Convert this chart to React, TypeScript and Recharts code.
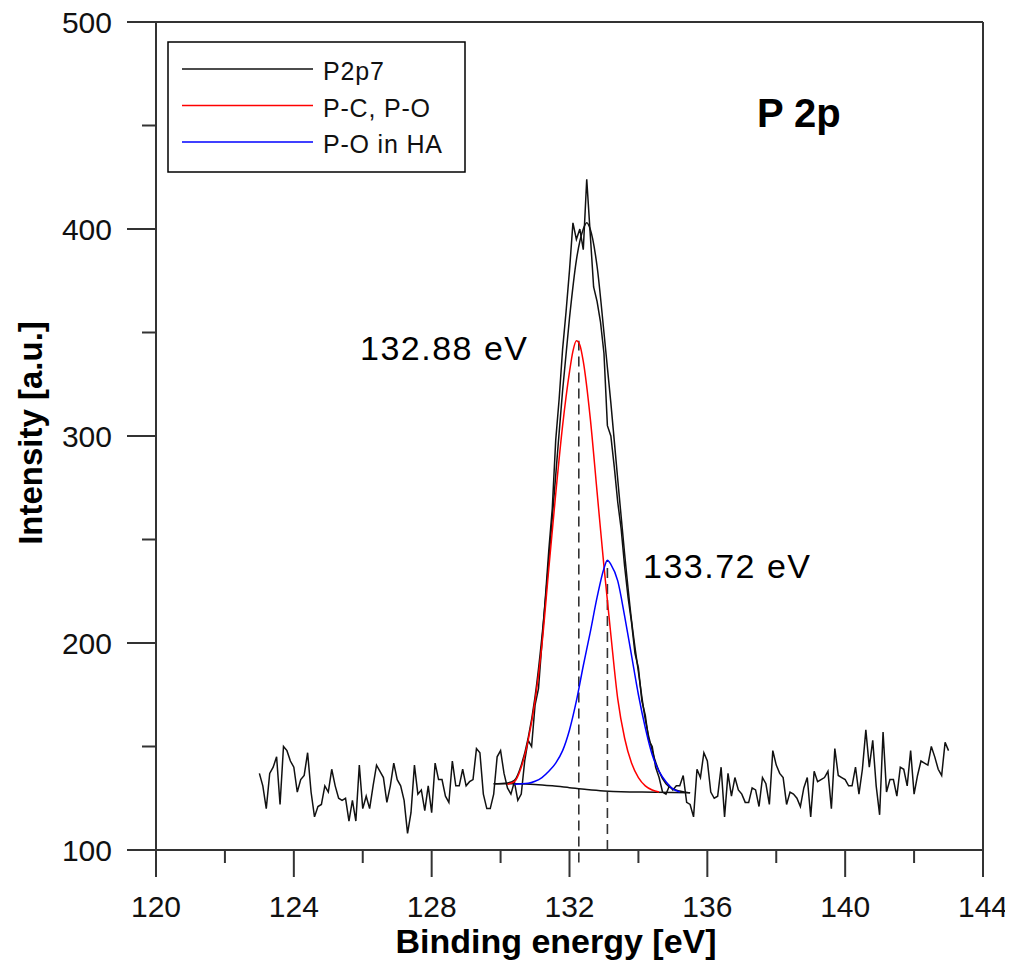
import React from "react";
import { LineChart, Line, XAxis, YAxis, ReferenceLine, Legend } from "recharts";

// raw P 2p scan, 0.1 eV step starting at 123.0 eV
const SCAN_START = 123.0;
const SCAN_STEP = 0.1;
const scanCounts = [
  137, 131, 120, 137, 140, 145, 122, 150, 148, 143,
  140, 128, 134, 136, 147, 128, 116, 121, 122, 131,
  128, 139, 131, 125, 124, 125, 114, 124, 114, 141,
  120, 126, 120, 131, 141, 138, 135, 123, 131, 142,
  134, 131, 124, 108, 118, 141, 127, 129, 119, 131,
  118, 142, 134, 134, 126, 123, 143, 131, 131, 139,
  131, 133, 134, 149, 147, 127, 120, 120, 127, 145,
  148, 137, 130, 127, 133, 124, 127, 143, 153, 150,
  170, 178, 200, 222, 245, 265, 298, 318, 342, 360,
  380, 403, 395, 400, 390, 424, 398, 372, 365, 355,
  340, 305, 300, 285, 268, 255, 237, 222, 210, 195,
  188, 172, 165, 153, 150, 140, 135, 128, 127, 131,
  129, 131, 131, 136, 123, 122, 116, 139, 135, 147,
  143, 128, 125, 126, 140, 116, 137, 126, 135, 129,
  127, 123, 123, 130, 129, 121, 135, 132, 122, 148,
  141, 137, 135, 122, 128, 127, 125, 121, 130, 135,
  116, 138, 133, 134, 135, 138, 120, 149, 136, 135,
  134, 131, 131, 140, 127, 139, 158, 140, 153, 131,
  117, 157, 128, 134, 134, 126, 140, 139, 131, 148,
  127, 136, 143, 142, 141, 150, 145, 139, 136, 152,
  148,
];

// fitted envelope (sum of components)
const envelopeEnergy = [129.8, 130.2, 130.4, 130.6, 130.8, 131.0, 131.2, 131.4, 131.6, 131.8, 132.0, 132.2, 132.4, 132.5, 132.6, 132.8, 133.0, 133.2, 133.4, 133.6, 133.8, 134.0, 134.2, 134.4, 134.6, 134.8, 135.0, 135.2, 135.5];
const envelopeCounts = [132, 132.4, 133.6, 141, 154, 174, 203, 240, 281, 322, 357, 385, 400, 403, 400, 382, 350, 316, 279, 243, 211, 186, 163, 148, 138, 132, 129.5, 128.5, 127.6];

// Shirley-type background
const bgEnergy = [129.8, 130.5, 131.0, 131.5, 132.0, 132.5, 133.0, 133.5, 134.5, 135.5];
const bgCounts = [132, 132, 131.7, 131, 130.1, 129.2, 128.5, 128.1, 127.9, 127.6];

// P-C, P-O component
const pcEnergy = [130.2, 130.4, 130.6, 130.8, 131.0, 131.2, 131.4, 131.6, 131.8, 132.0, 132.1, 132.2, 132.3, 132.4, 132.6, 132.8, 133.0, 133.2, 133.4, 133.6, 133.8, 134.0, 134.2, 134.4, 134.6];
const pcCounts = [131.8, 133, 140, 153, 172, 199, 236, 272, 305, 331, 341, 346, 344, 336, 309, 273, 237, 204, 173, 154, 142, 135, 131, 129, 128];

// P-O in HA component
const haEnergy = [130.4, 130.8, 131.0, 131.2, 131.4, 131.6, 131.8, 132.0, 132.2, 132.4, 132.6, 132.8, 133.0, 133.1, 133.2, 133.4, 133.6, 133.8, 134.0, 134.2, 134.4, 134.6, 134.8, 135.0, 135.2];
const haCounts = [131.8, 132.2, 133.2, 135, 138, 142, 148, 158, 172, 189, 205, 222, 236, 240, 238, 230, 213, 194, 175, 159, 146, 138, 133, 129.5, 128];

// peak centres (dashed markers) and their labels
const peakPos = [132.27, 133.1];
const peakTop = [346, 240];
const peakLabels = ["132.88 eV", "133.72 eV"];

const legendOrder = ["P2p7", "P-C, P-O", "P-O in HA"];
const xTicks = [120, 122, 124, 126, 128, 130, 132, 134, 136, 138, 140, 142, 144];
const yTicks = [100, 150, 200, 250, 300, 350, 400, 450, 500];

const FONT = "'Liberation Sans', Arial, sans-serif";
const AXIS = "#333";

const pairs = (xs: number[], ys: number[]) => xs.map((x, i) => ({ x, y: ys[i] }));
const scan = scanCounts.map((y, i) => ({ x: +(SCAN_START + i * SCAN_STEP).toFixed(1), y }));

const XTick = (props: any) => {
  const { x, y, payload } = props;
  const major = payload.value % 4 === 0;
  return (
    <g>
      <line x1={x} x2={x} y1={y} y2={y + (major ? 27 : 13)} stroke={AXIS} strokeWidth={2} />
      {major && (
        <text x={x} y={y + 67} textAnchor="middle" fontSize={30} fontFamily={FONT} fill="#111">
          {payload.value}
        </text>
      )}
    </g>
  );
};

const YTick = (props: any) => {
  const { x, y, payload } = props;
  const major = payload.value % 100 === 0;
  return (
    <g>
      <line x1={x - (major ? 29 : 14)} x2={x} y1={y} y2={y} stroke={AXIS} strokeWidth={2} />
      {major && (
        <text x={x - 44} y={y} dy="0.36em" textAnchor="end" fontSize={30} fontFamily={FONT} fill="#111">
          {payload.value}
        </text>
      )}
    </g>
  );
};

const LegendBox = (props: any) => {
  const items = (props.payload || [])
    .filter((p: any) => legendOrder.includes(p.value))
    .sort((a: any, b: any) => legendOrder.indexOf(a.value) - legendOrder.indexOf(b.value));
  return (
    <svg width={300} height={133} style={{ display: "block" }}>
      <rect x={1} y={1} width={297} height={130} fill="#fff" stroke="#000" strokeWidth={1.5} />
      {items.map((p: any, i: number) => (
        <g key={p.value}>
          <line x1={15} x2={146} y1={28 + i * 36.5} y2={28 + i * 36.5} stroke={p.color} strokeWidth={1.5} />
          <text x={156} y={39 + i * 36.5} fontSize={25} fontFamily={FONT} letterSpacing={0.8} fill="#111">
            {p.value}
          </text>
        </g>
      ))}
    </svg>
  );
};

export default function App() {
  return (
    <div style={{ position: "relative", width: 1005, height: 971, marginTop: -8, background: "#fff" }}>
      <LineChart width={1005} height={971} margin={{ top: 22, right: 30, bottom: 120, left: 147 }}>
        <XAxis
          dataKey="x"
          type="number"
          domain={[120, 144]}
          ticks={xTicks}
          interval={0}
          allowDataOverflow
          height={1}
          tickSize={0}
          tickMargin={0}
          tickLine={false}
          tick={<XTick />}
          axisLine={{ stroke: AXIS, strokeWidth: 2 }}
        />
        <YAxis
          type="number"
          domain={[100, 500]}
          ticks={yTicks}
          interval={0}
          allowDataOverflow
          width={1}
          tickSize={0}
          tickMargin={0}
          tickLine={false}
          tick={<YTick />}
          axisLine={{ stroke: AXIS, strokeWidth: 2 }}
        />
        <ReferenceLine y={500} stroke={AXIS} strokeWidth={2} />
        <ReferenceLine x={144} stroke={AXIS} strokeWidth={2} />
        {peakPos.map((p, i) => (
          <ReferenceLine
            key={p}
            segment={[{ x: p, y: i === 0 ? 94 : 100 }, { x: p, y: peakTop[i] }]}
            stroke={AXIS}
            strokeWidth={1.6}
            strokeDasharray="10 6"
            ifOverflow="visible"
          />
        ))}
        <Line data={scan} dataKey="y" name="P2p7" type="linear" stroke="#111" strokeWidth={1.5} dot={false} isAnimationActive={false} />
        <Line data={pairs(envelopeEnergy, envelopeCounts)} dataKey="y" name="envelope" legendType="none" type="monotone" stroke="#111" strokeWidth={1.5} dot={false} isAnimationActive={false} />
        <Line data={pairs(bgEnergy, bgCounts)} dataKey="y" name="background" legendType="none" type="monotone" stroke="#111" strokeWidth={1.5} dot={false} isAnimationActive={false} />
        <Line data={pairs(pcEnergy, pcCounts)} dataKey="y" name="P-C, P-O" type="monotone" stroke="#ff0000" strokeWidth={1.5} dot={false} isAnimationActive={false} />
        <Line data={pairs(haEnergy, haCounts)} dataKey="y" name="P-O in HA" type="monotone" stroke="#0000ff" strokeWidth={1.5} dot={false} isAnimationActive={false} />
        <Legend
          layout="vertical"
          align="center"
          verticalAlign="middle"
          content={<LegendBox />}
          wrapperStyle={{ left: 159, top: 41, width: 300, height: 133 }}
        />
      </LineChart>
      <svg width={1005} height={971} style={{ position: "absolute", left: 0, top: 0, pointerEvents: "none" }}>
        <text x={749} y={127} fontSize={40} fontWeight="bold" fontFamily={FONT} fill="#000">P 2p</text>
        <text x={352} y={360} fontSize={34} fontFamily={FONT} letterSpacing={1.5} fill="#000">{peakLabels[0]}</text>
        <text x={635} y={578} fontSize={34} fontFamily={FONT} letterSpacing={1.5} fill="#000">{peakLabels[1]}</text>
        <text x={548} y={953} textAnchor="middle" fontSize={34} fontWeight="bold" fontFamily={FONT} fill="#000">
          Binding energy [eV]
        </text>
        <text
          transform="translate(34,433) rotate(-90)"
          textAnchor="middle"
          fontSize={33}
          fontWeight="bold"
          fontFamily={FONT}
          fill="#000"
        >
          Intensity [a.u.]
        </text>
      </svg>
    </div>
  );
}
